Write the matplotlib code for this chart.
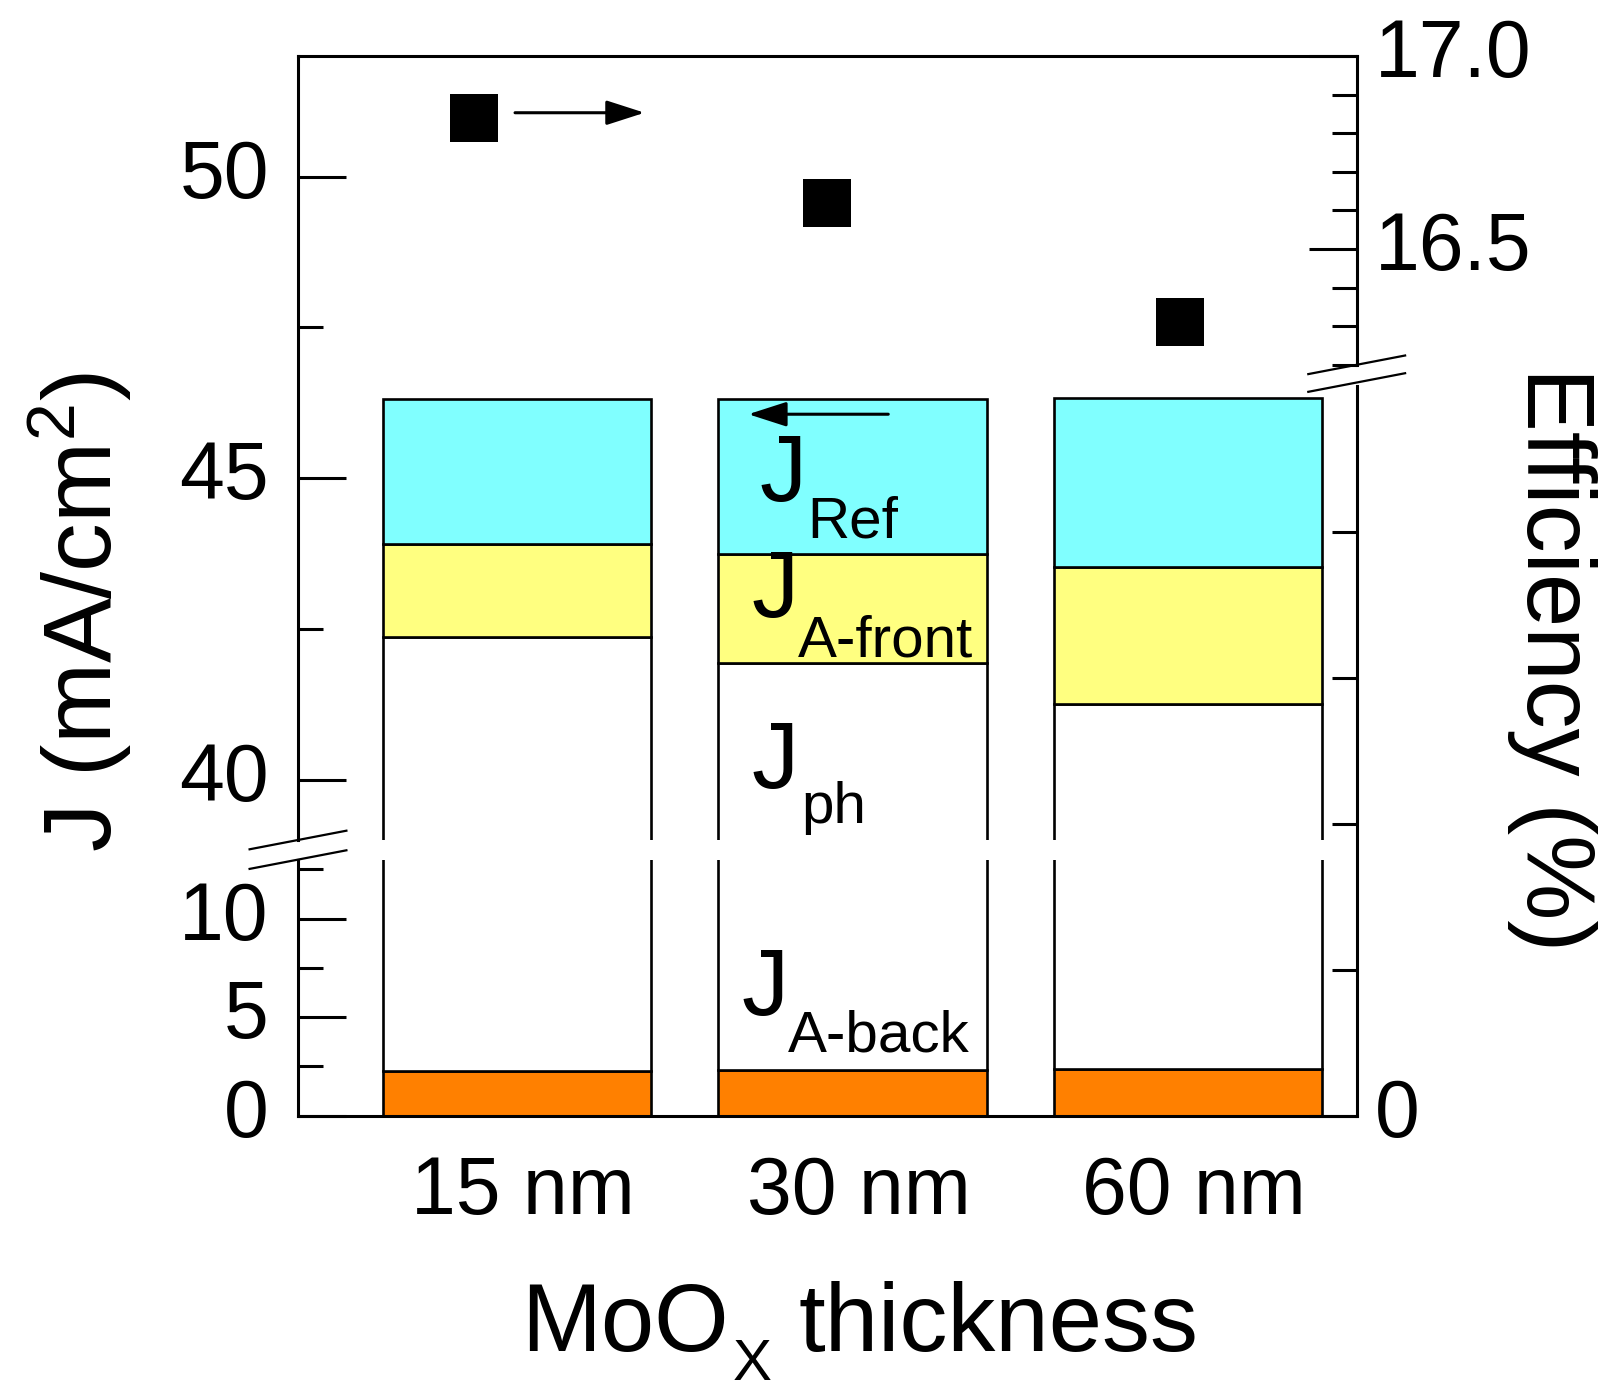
import matplotlib
matplotlib.use("Agg")
import matplotlib.pyplot as plt
from matplotlib.lines import Line2D
from matplotlib.transforms import ScaledTranslation
from matplotlib.ticker import FixedLocator, FixedFormatter

plt.rcParams["font.family"] = ["Liberation Sans", "DejaVu Sans"]
plt.rcParams["mathtext.fontset"] = "custom"
plt.rcParams["mathtext.rm"] = "Liberation Sans"
plt.rcParams["mathtext.it"] = "Liberation Sans:italic"
plt.rcParams["mathtext.bf"] = "Liberation Sans:bold"

# ---- data -------------------------------------------------------------
categories = ["15 nm", "30 nm", "60 nm"]
# cumulative current levels of each stacked component (mA/cm^2)
j_a_back_top = [2.28, 2.32, 2.36]
j_ph_top = [42.37, 41.93, 41.25]
j_a_front_top = [43.90, 43.75, 43.53]
j_ref_top = [46.32, 46.32, 46.33]
# cell efficiency (%)
efficiency = [16.84, 16.62, 16.31]

seg_colors = ["#FF8000", "#FFFFFF", "#FFFF80", "#80FFFF"]

# ---- figure and broken axes ----------------------------------------------
W, H = 1602, 1393
fig = plt.figure(figsize=(W / 100, H / 100), dpi=100)

x0, ww = 0.18602, 0.66086
ax_up = fig.add_axes([x0, 0.39699, ww, 0.56281])
ax_lo = fig.add_axes([x0, 0.19907, ww, 0.18385])
ef_up = fig.add_axes([x0, 0.73812, ww, 0.22168])
ef_lo = fig.add_axes([x0, 0.19907, ww, 0.52405])

LW = 2.2
TICK_FS = 58
xpos = list(range(len(categories)))

# stacked bars, drawn in both halves of the broken J axis
levels = [[0.0] * 3, j_a_back_top, j_ph_top, j_a_front_top, j_ref_top]
for ax in (ax_up, ax_lo):
    for k in range(4):
        bottoms = levels[k]
        heights = [t - b for t, b in zip(levels[k + 1], bottoms)]
        ax.bar(xpos, heights, bottom=bottoms, width=0.8, color=seg_colors[k],
               edgecolor="black", linewidth=1.9)
    ax.set_xlim(-0.653, 2.502)
    ax.set_facecolor("white")

ax_up.set_ylim(39, 52)
ax_lo.set_ylim(0, 13)

ax_up.yaxis.set_major_locator(FixedLocator([40, 45, 50]))
ax_up.yaxis.set_minor_locator(FixedLocator([42.5, 47.5]))
ax_lo.yaxis.set_major_locator(FixedLocator([0, 5, 10]))
ax_lo.yaxis.set_minor_locator(FixedLocator([2.5, 7.5, 12.5]))

ax_up.spines["bottom"].set_visible(False)
ax_up.spines["right"].set_visible(False)
ax_lo.spines["top"].set_visible(False)
ax_lo.spines["right"].set_visible(False)
ax_up.set_xticks([])

ax_lo.set_xticks(xpos)
ax_lo.set_xticklabels(categories)
ax_lo.tick_params(axis="x", length=0, labelsize=TICK_FS, pad=28.5)

for ax in (ax_up, ax_lo):
    for s in ax.spines.values():
        s.set_linewidth(LW)
    ax.tick_params(axis="y", which="major", direction="in", length=34.6,
                   width=LW, labelsize=TICK_FS, pad=21)
    ax.tick_params(axis="y", which="minor", direction="in", length=18,
                   width=LW)

# efficiency axes (broken as well, at a different height)
for ax in (ef_up, ef_lo):
    ax.set_facecolor("none")
    ax.set_xlim(-0.5, 2.5)
    for name in ("left", "top", "bottom"):
        ax.spines[name].set_visible(False)
    ax.spines["right"].set_linewidth(LW)
    ax.set_xticks([])
    ax.yaxis.tick_right()
    ax.tick_params(axis="y", which="major", direction="in", length=34.6,
                   width=LW, labelsize=TICK_FS, pad=13,
                   left=False, right=True, labelleft=False, labelright=True)
    ax.tick_params(axis="y", which="minor", direction="in", length=18,
                   width=LW, left=False, right=True)

ef_up.set_ylim(16.2, 17.0)
ef_up.yaxis.set_major_locator(FixedLocator([16.5, 17.0]))
ef_up.yaxis.set_major_formatter(FixedFormatter(["16.5", "17.0"]))
ef_up.yaxis.set_minor_locator(FixedLocator([16.2, 16.3, 16.4, 16.6, 16.7, 16.8, 16.9]))

ef_lo.set_ylim(0, 5)
ef_lo.yaxis.set_major_locator(FixedLocator([0]))
ef_lo.yaxis.set_minor_locator(FixedLocator([1, 2, 3, 4]))

ef_up.plot(xpos, efficiency, ls="none", marker="s", ms=34, mew=0,
           color="black", clip_on=False)

for ax in (ax_up, ax_lo, ef_up, ef_lo):
    for lab in ax.get_yticklabels():
        lab.set_va("center")

# category labels sit slightly right of the bar centres
nudge = ScaledTranslation(6 / 100, 0, fig.dpi_scale_trans)
for lab in ax_lo.get_xticklabels():
    lab.set_transform(lab.get_transform() + nudge)

# ---- break marks ----------------------------------------------------------
def break_mark(xf, yf):
    dx, dy = 48.4 / W, 9.3 / H
    fig.add_artist(Line2D([xf - dx, xf + dx], [yf - dy, yf + dy],
                          transform=fig.transFigure, color="black", lw=1.6,
                          clip_on=False))

break_mark(x0, 0.39699)
break_mark(x0, 0.38291)
break_mark(x0 + ww, 0.73812)
break_mark(x0 + ww, 0.72540)

# ---- direction arrows -------------------------------------------------------
arrow_style = dict(arrowstyle="-|>,head_length=1.18,head_width=0.38",
                   color="black", lw=2.2, shrinkA=0, shrinkB=0,
                   mutation_scale=20)
ef_up.annotate("", xy=(0.482, 16.853), xytext=(0.115, 16.853),
               arrowprops=arrow_style)
ax_up.annotate("", xy=(0.689, 46.06), xytext=(1.106, 46.06),
               arrowprops=arrow_style)

# ---- component labels ---------------------------------------------------------
J_FS, SUB_FS = 68, 42
def comp_label(ax, xj, yj, sub, xs, ys):
    ax.text(xj, yj, "J", fontsize=J_FS, ha="left", va="baseline")
    ax.text(xs, ys, sub, fontsize=SUB_FS, ha="left", va="baseline")

comp_label(ax_up, 0.722, 44.62, "Ref", 0.866, 44.01)
comp_label(ax_up, 0.699, 42.69, "A-front", 0.836, 42.04)
comp_label(ax_up, 0.699, 39.86, "ph", 0.846, 39.28)
comp_label(ax_lo, 0.669, 5.11, "A-back", 0.806, 3.25)

# ---- axis titles ----------------------------------------------------------------
fig.text(0.050, 0.5607, r"J (mA/cm$^{\mathregular{2}}$)", rotation=90,
         fontsize=70, ha="center", va="center")
fig.text(0.9688, 0.5269, "Efficiency (%)", rotation=-90,
         fontsize=69, ha="center", va="center")

# x title built from pieces so the subscript can drop well below the baseline
fig.text(521 / W, 1 - 1350.7 / H, "MoO", fontsize=69, ha="left", va="baseline")
fig.text(733 / W, 1 - 1380.0 / H, "X", fontsize=42, ha="left", va="baseline")
fig.text(798 / W, 1 - 1350.7 / H, "thickness", fontsize=69, ha="left",
         va="baseline")

fig.savefig("out.png", dpi=100)
